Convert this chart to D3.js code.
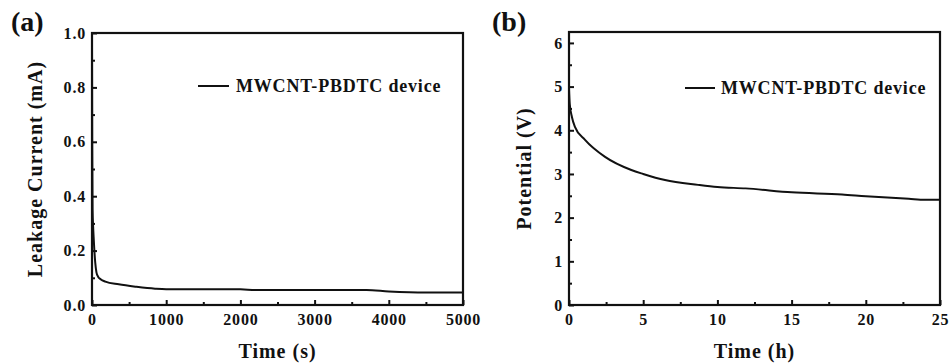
<!DOCTYPE html>
<html><head><meta charset="utf-8">
<script src="https://cdn.jsdelivr.net/npm/d3@7"></script>
<style>
body{margin:0;background:#fff;}
</style></head>
<body><svg id="c" width="952" height="363"></svg>
<script>
// Panel (a): leakage current vs time (s)
const timeA = [0,3,8,15,22,44,60,80,120,180,360,600,850,1000,2000,2200,3700,4000,4500,5000];
const currentA = [0.95,0.6,0.35,0.29,0.25,0.155,0.12,0.105,0.094,0.086,0.076,0.067,0.06,0.058,0.058,0.055,0.055,0.05,0.046,0.046];
// Panel (b): potential vs time (h)
const timeB = [0,0.05,0.2,0.4,1.08,2.43,4.2,5,6.47,8.7,10,11.9,15,18.4,20,22.9,24,25];
const potentialB = [4.95,4.6,4.3,4.08,3.78,3.39,3.09,3.0,2.86,2.75,2.70,2.67,2.58,2.53,2.49,2.43,2.41,2.41];
const xTicksA = [0,1000,2000,3000,4000,5000];
const yTicksA = [0,0.2,0.4,0.6,0.8,1.0];
const xTicksB = [0,5,10,15,20,25];
const yTicksB = [0,1,2,3,4,5,6];
const legendLabel = "MWCNT-PBDTC device";

const FONT = "'Liberation Serif', 'DejaVu Serif', serif";
const svg = d3.select("#c");

function panel(o){
  const g = svg.append("g");
  const x = d3.scaleLinear().domain(o.xd).range([o.l,o.r]);
  const y = d3.scaleLinear().domain(o.yd).range([o.b,o.t]);
  const xMinor = d3.range(o.xd[0], o.xd[1]+1e-9, o.xm).filter(v=>!o.xt.some(t=>Math.abs(t-v)<1e-9));
  const yMinor = d3.range(o.yd[0], o.yd[1]+1e-9, o.ym).filter(v=>!o.yt.some(t=>Math.abs(t-v)<1e-9));
  g.append("g").attr("transform",`translate(0,${o.b})`)
    .call(d3.axisBottom(x).tickValues(o.xt).tickSize(-5).tickPadding(9).tickFormat(o.xf));
  g.append("g").attr("transform",`translate(0,${o.b})`)
    .call(d3.axisBottom(x).tickValues(xMinor).tickSize(-3).tickFormat(""));
  g.append("g").attr("transform",`translate(${o.l},0)`)
    .call(d3.axisLeft(y).tickValues(o.yt).tickSize(-5).tickPadding(6).tickFormat(o.yf));
  g.append("g").attr("transform",`translate(${o.l},0)`)
    .call(d3.axisLeft(y).tickValues(yMinor).tickSize(-3).tickFormat(""));
  g.selectAll(".domain").remove();
  g.selectAll(".tick line").attr("stroke","#111").attr("stroke-width",2);
  g.selectAll(".tick text").attr("font-family",FONT).style("font-family",FONT)
    .style("font-weight","bold").style("font-size","16px").style("letter-spacing","0.8px").attr("fill","#111");
  g.append("rect").attr("x",o.l).attr("y",o.t).attr("width",o.r-o.l).attr("height",o.b-o.t)
    .attr("fill","none").attr("stroke","#111").attr("stroke-width",2.2);
  const line = d3.line().x(d=>x(d[0])).y(d=>y(d[1])).curve(d3.curveMonotoneX);
  g.append("path").datum(o.xs.map((v,i)=>[v,o.ys[i]]))
    .attr("d",line).attr("fill","none").attr("stroke","#111").attr("stroke-width",2);
  g.append("line").attr("x1",o.lg[0]).attr("x2",o.lg[1]).attr("y1",o.lg[2]).attr("y2",o.lg[2])
    .attr("stroke","#111").attr("stroke-width",2);
  const T = (sel,size)=>sel.style("font-family",FONT).style("font-weight","bold")
    .style("font-size",size+"px").attr("fill","#111");
  T(g.append("text").attr("x",o.lg[3]).attr("y",o.lg[2]).attr("dy","0.35em")
    .style("letter-spacing","0.8px"),18).text(legendLabel);
  T(g.append("text").attr("x",(o.l+o.r)/2).attr("y",358).attr("text-anchor","middle")
    .style("letter-spacing","1px"),20).text(o.xl);
  T(g.append("text").attr("transform",`translate(${o.yx},${(o.t+o.b)/2}) rotate(-90)`)
    .attr("text-anchor","middle").attr("dy","0.35em").style("letter-spacing","1px"),20).text(o.yl);
  T(g.append("text").attr("x",o.px).attr("y",31),28).text(o.pl);
}

panel({l:92,r:463,t:33,b:305,xd:[0,5000],yd:[0,1.0],xt:xTicksA,yt:yTicksA,xm:500,ym:0.1,
  xf:d3.format("d"),yf:d3.format(".1f"),xs:timeA,ys:currentA,
  lg:[198,229,86,236],xl:"Time (s)",yl:"Leakage Current (mA)",yx:35,px:11,pl:"(a)"});
panel({l:569,r:940,t:32,b:305,xd:[0,25],yd:[0,6.25],xt:xTicksB,yt:yTicksB,xm:2.5,ym:0.5,
  xf:d3.format("d"),yf:d3.format("d"),xs:timeB,ys:potentialB,
  lg:[685,715,88,721],xl:"Time (h)",yl:"Potential (V)",yx:524,px:492,pl:"(b)"});
</script></body></html>
